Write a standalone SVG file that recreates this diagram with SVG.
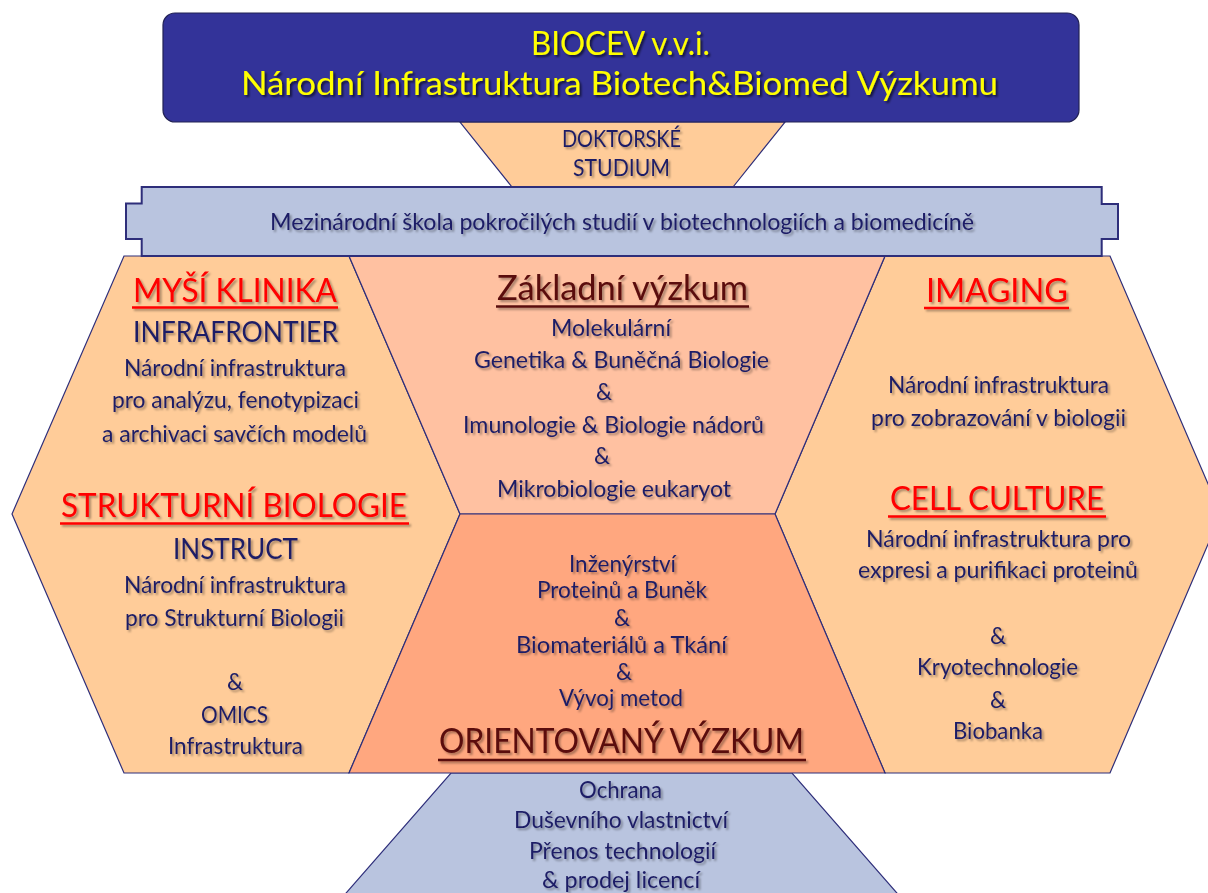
<svg xmlns="http://www.w3.org/2000/svg" width="1208" height="893" viewBox="0 0 1208 893">
<defs>
<style>
text{font-family:Lato,"Open Sans","Liberation Sans",sans-serif;}
.title{fill:#ffff00;font-size:33px;}
.nv{fill:#1f1f66;font-size:22.5px;}
.big{fill:#1f1f66;font-size:29px;}
.red{fill:#ff0000;font-size:33px;}
.dred{fill:#5a0a0a;font-size:34px;}
.am{text-anchor:middle;}
.peach{fill:#ffcc99;stroke:#2e2e7a;stroke-width:1.2;}
.pink{fill:#ffc1a1;stroke:#2e2e7a;stroke-width:1.2;}
.orange{fill:#ffa77f;stroke:#2e2e7a;stroke-width:1.2;}
.blue{fill:#b9c4df;stroke:#2e2e7a;stroke-width:1.2;}
.ul-r{stroke:#ff0000;stroke-width:2.5;}
.ul-d{stroke:#5a0a0a;stroke-width:2.5;}
</style>
<filter id="sh" x="-5%" y="-30%" width="110%" height="160%">
<feDropShadow dx="2" dy="2" stdDeviation="1.2" flood-color="#000" flood-opacity="0.35"/>
</filter>
<filter id="shT" x="-5%" y="-30%" width="110%" height="160%">
<feDropShadow dx="2" dy="2" stdDeviation="1.2" flood-color="#000" flood-opacity="0.6"/>
</filter>
</defs>
<rect width="1208" height="893" fill="#ffffff"/>

<g id="doktorske">
<polygon class="peach" points="460,122 785,122 733,187 512,187"/>
<g filter="url(#sh)">
<text class="nv" x="562" y="146.5" textLength="119" lengthAdjust="spacingAndGlyphs">DOKTORSKÉ</text>
<text class="nv" x="573" y="175.5" textLength="97" lengthAdjust="spacingAndGlyphs">STUDIUM</text>
</g>
</g>

<g id="title">
<rect x="163" y="13" width="916" height="109" rx="12" ry="12" fill="#333399" stroke="#222255" stroke-width="1.2"/>
<g filter="url(#shT)">
<text class="title" x="531" y="55" textLength="179" lengthAdjust="spacingAndGlyphs">BIOCEV v.v.i.</text>
<text class="title" x="241" y="95" textLength="757" lengthAdjust="spacingAndGlyphs">Národní Infrastruktura Biotech&amp;Biomed Výzkumu</text>
</g>
</g>

<g id="transfer">
<polygon class="blue" points="451,773 792,773 903,900 340,900"/>
<g filter="url(#sh)">
<text class="nv" x="579" y="798" textLength="83" lengthAdjust="spacingAndGlyphs">Ochrana</text>
<text class="nv" x="514" y="828" textLength="214" lengthAdjust="spacingAndGlyphs">Duševního vlastnictví</text>
<text class="nv" x="529" y="859" textLength="187" lengthAdjust="spacingAndGlyphs">Přenos technologií</text>
<text class="nv" x="542" y="888" textLength="158" lengthAdjust="spacingAndGlyphs">&amp; prodej licencí</text>
</g>
</g>

<g id="left-hex">
<polygon class="peach" points="124,256 349,256 460,514 349,773 124,773 12,514"/>
<g filter="url(#sh)">
<text class="red" x="133" y="302" textLength="204" lengthAdjust="spacingAndGlyphs">MYŠÍ KLINIKA</text>
<line class="ul-r" x1="132" y1="307.5" x2="338" y2="307.5"/>
<text class="big" x="133" y="342" textLength="205" lengthAdjust="spacingAndGlyphs">INFRAFRONTIER</text>
<text class="nv" x="124" y="376" textLength="222" lengthAdjust="spacingAndGlyphs">Národní infrastruktura</text>
<text class="nv" x="112" y="408" textLength="247" lengthAdjust="spacingAndGlyphs">pro analýzu, fenotypizaci</text>
<text class="nv" x="102" y="442" textLength="265" lengthAdjust="spacingAndGlyphs">a archivaci savčích modelů</text>
<text class="red" x="61" y="517" textLength="346" lengthAdjust="spacingAndGlyphs">STRUKTURNÍ BIOLOGIE</text>
<line class="ul-r" x1="60" y1="523.5" x2="409" y2="523.5"/>
<text class="big" x="173" y="559" textLength="125" lengthAdjust="spacingAndGlyphs">INSTRUCT</text>
<text class="nv" x="124" y="593" textLength="222" lengthAdjust="spacingAndGlyphs">Národní infrastruktura</text>
<text class="nv" x="125" y="626" textLength="219" lengthAdjust="spacingAndGlyphs">pro Strukturní Biologii</text>
<text class="nv am" x="235" y="690">&amp;</text>
<text class="nv" x="201" y="723" textLength="67" lengthAdjust="spacingAndGlyphs">OMICS</text>
<text class="nv" x="168" y="754" textLength="135" lengthAdjust="spacingAndGlyphs">Infrastruktura</text>
</g>
</g>

<g id="right-hex">
<polygon class="peach" points="885,256 1110,256 1221,514 1110,773 885,773 775,514"/>
<g filter="url(#sh)">
<text class="red" x="926" y="302" textLength="142" lengthAdjust="spacingAndGlyphs">IMAGING</text>
<line class="ul-r" x1="924" y1="308" x2="1069" y2="308"/>
<text class="nv" x="888" y="393" textLength="221" lengthAdjust="spacingAndGlyphs">Národní infrastruktura</text>
<text class="nv" x="871" y="426" textLength="255" lengthAdjust="spacingAndGlyphs">pro zobrazování v biologii</text>
<text class="red" x="890" y="510" textLength="214" lengthAdjust="spacingAndGlyphs">CELL CULTURE</text>
<line class="ul-r" x1="888" y1="516.5" x2="1106" y2="516.5"/>
<text class="nv" x="866" y="547" textLength="265" lengthAdjust="spacingAndGlyphs">Národní infrastruktura pro</text>
<text class="nv" x="858" y="578" textLength="280" lengthAdjust="spacingAndGlyphs">expresi a purifikaci proteinů</text>
<text class="nv am" x="998" y="644">&amp;</text>
<text class="nv" x="917" y="675" textLength="161" lengthAdjust="spacingAndGlyphs">Kryotechnologie</text>
<text class="nv am" x="998" y="708">&amp;</text>
<text class="nv" x="953" y="739" textLength="90" lengthAdjust="spacingAndGlyphs">Biobanka</text>
</g>
</g>

<g id="zakladni">
<polygon class="pink" points="349,256 885,256 775,514 460,514"/>
<g filter="url(#sh)">
<text class="dred" x="497" y="300" textLength="251" lengthAdjust="spacingAndGlyphs">Základní výzkum</text>
<line class="ul-d" x1="496" y1="306.5" x2="749" y2="306.5"/>
<text class="nv" x="551" y="336" textLength="120" lengthAdjust="spacingAndGlyphs">Molekulární</text>
<text class="nv" x="474" y="368" textLength="295" lengthAdjust="spacingAndGlyphs">Genetika &amp; Buněčná Biologie</text>
<text class="nv am" x="604" y="400">&amp;</text>
<text class="nv" x="463" y="433" textLength="301" lengthAdjust="spacingAndGlyphs">Imunologie &amp; Biologie nádorů</text>
<text class="nv am" x="602" y="464">&amp;</text>
<text class="nv" x="497" y="497" textLength="234" lengthAdjust="spacingAndGlyphs">Mikrobiologie eukaryot</text>
</g>
</g>

<g id="orientovany">
<polygon class="orange" points="460,514 775,514 885,773 349,773"/>
<g filter="url(#sh)">
<text class="nv" x="569" y="572" textLength="107" lengthAdjust="spacingAndGlyphs">Inženýrství</text>
<text class="nv" x="537" y="598" textLength="170" lengthAdjust="spacingAndGlyphs">Proteinů a Buněk</text>
<text class="nv am" x="622" y="626">&amp;</text>
<text class="nv" x="516" y="653" textLength="211" lengthAdjust="spacingAndGlyphs">Biomateriálů  a Tkání</text>
<text class="nv am" x="624" y="680">&amp;</text>
<text class="nv" x="559" y="706" textLength="124" lengthAdjust="spacingAndGlyphs">Vývoj metod</text>
<text class="dred" x="439" y="753" textLength="365" lengthAdjust="spacingAndGlyphs">ORIENTOVANÝ VÝZKUM</text>
<line class="ul-d" x1="438" y1="760" x2="806" y2="760"/>
</g>
</g>

<g id="school-banner">
<path d="M141.7,187 H1101.7 V204 H1118 V239 H1101.7 V256 H141.7 V239 H126 V203.5 H141.7 Z" fill="#b9c4df" stroke="#2e2e7a" stroke-width="2"/>
<g filter="url(#sh)">
<text class="nv" x="270" y="229.5" textLength="704" lengthAdjust="spacingAndGlyphs">Mezinárodní škola pokročilých studií v biotechnologiích a biomedicíně</text>
</g>
</g>

<g id="connectors"/>
</svg>
